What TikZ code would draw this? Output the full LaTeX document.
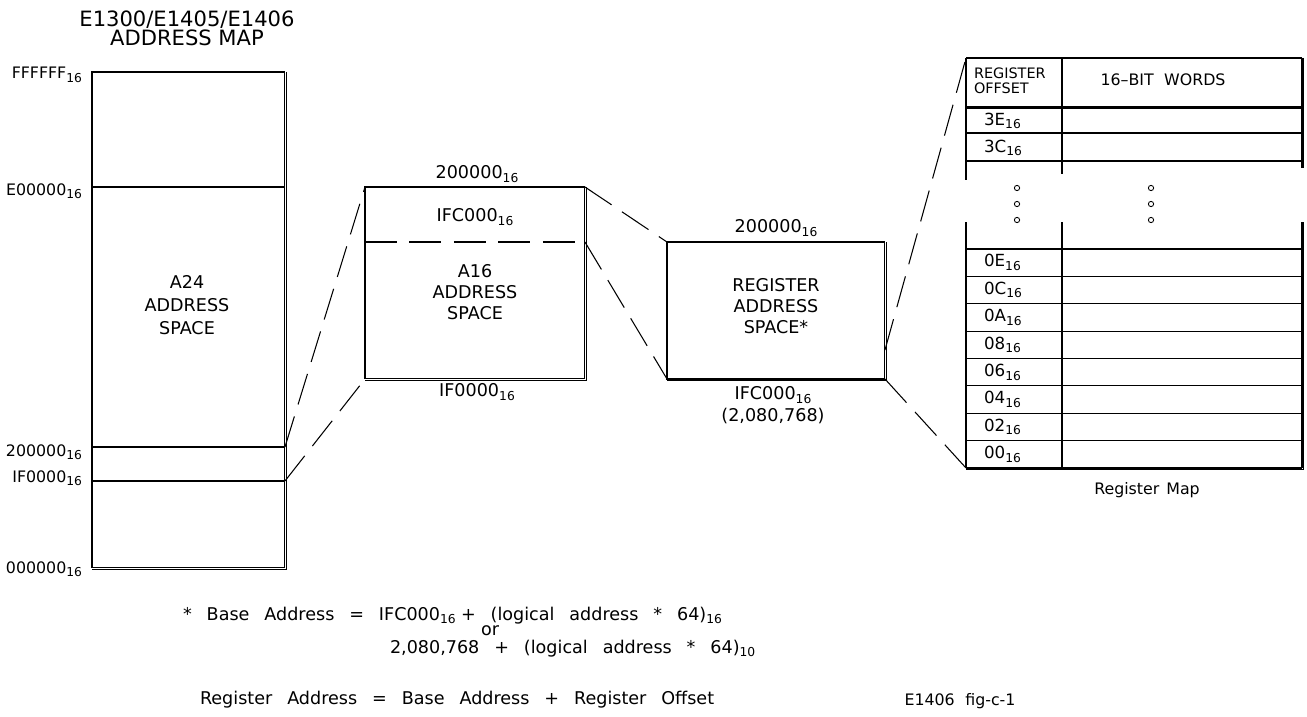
\documentclass[tikz,border=0pt]{standalone}
\usepackage{fontspec}
\setmainfont{DejaVu Sans}
\usepackage{tikz}
\usetikzlibrary{positioning, calc}
\newcommand{\hexsub}[2]{#1\raisebox{-0.4ex}{\fontsize{7}{8}\selectfont#2}}
\newcommand{\wsp}{\hspace{8.5pt}}

\begin{document}
\begin{tikzpicture}[
  x=0.02cm, y=-0.02cm,
  every node/.style={font=\fontsize{10}{12}\selectfont, inner sep=0pt, outer sep=0pt},
  mapbox/.style={rectangle, draw=black, line width=0.6pt, anchor=north west},
  edge/.style={draw=black, line width=0.6pt},
  link/.style={draw=black, line width=0.6pt, dash pattern=on 0.64cm off 0.25cm},
  addr/.style={anchor=east, font=\fontsize{9}{12}\selectfont},
  cell/.style={anchor=west, font=\fontsize{9.5}{12}\selectfont},
  dot/.style={circle, draw=black, line width=0.5pt, minimum size=0.105cm},
  formula/.style={anchor=base west},
]
  \useasboundingbox (0,0) rectangle (1307,716);

  % Address map title
  \node[font=\fontsize{12}{11}\selectfont, align=center] (title) at (187,28)
    {E1300/E1405/E1406\\ADDRESS MAP};

  % A24 space
  \node[mapbox, minimum width=3.86cm, minimum height=9.92cm] (a24) at (92,72) {};
  \draw[edge] ([shift={(1.7,0)}]a24.north east) -- ([shift={(1.7,1.7)}]a24.south east)
    -- ([shift={(0,1.7)}]a24.south west);
  \coordinate (e00) at (92,187);
  \coordinate (h200) at (92,447);
  \coordinate (hif0) at (92,481);
  \draw[edge] (e00) -- (e00 -| a24.east);
  \draw[edge] (h200) -- (h200 -| a24.east);
  \draw[edge] (hif0) -- (hif0 -| a24.east);
  \node[align=center, font=\fontsize{10}{13.3}\selectfont] (a24-name) at (187,305)
    {A24\\ADDRESS\\SPACE};

  \node[addr] (lb-fff) at (82,75) {\hexsub{FFFFFF}{16}};
  \node[addr] (lb-e00) at (82,191) {\hexsub{E00000}{16}};
  \node[addr] (lb-200) at (82,452) {\hexsub{200000}{16}};
  \node[addr] (lb-if0) at (82,478) {\hexsub{IF0000}{16}};
  \node[addr] (lb-000) at (82,569) {\hexsub{000000}{16}};

  % A16 space
  \node[mapbox, minimum width=4.4cm, minimum height=3.84cm] (a16) at (365,187) {};
  \draw[edge] ([shift={(1.7,0)}]a16.north east) -- ([shift={(1.7,1.7)}]a16.south east)
    -- ([shift={(0,1.7)}]a16.south west);
  \coordinate (ifc) at (365,242);
  \draw[link] (ifc) -- (ifc -| a16.east);
  \node (a16-top) at (477,174) {\hexsub{200000}{16}};
  \node (a16-ifc) at (475,217) {\hexsub{IFC000}{16}};
  \node[align=center] (a16-name) at (475,292) {A16\\ADDRESS\\SPACE};
  \node (a16-bot) at (477,392) {\hexsub{IF0000}{16}};

  % Register space
  \node[mapbox, minimum width=4.36cm, minimum height=2.74cm] (reg) at (667,242) {};
  \draw[edge] ([shift={(1.7,0)}]reg.north east) -- ([shift={(1.7,1.7)}]reg.south east)
    -- ([shift={(0,1.7)}]reg.south west);
  \node (reg-top) at (776,228) {\hexsub{200000}{16}};
  \node[align=center] (reg-name) at (776,306) {REGISTER\\ADDRESS\\SPACE*};
  \node (reg-bot) at (773,395) {\hexsub{IFC000}{16}};
  \node (reg-dec) at (773,416) {(2,080,768)};

  % Register map table
  \coordinate (tbl-tl) at (966,58);
  \coordinate (tbl-bl) at (966,468);
  \draw[edge] (966,58) -- (1302,58);
  \draw[edge] (966,58) -- (966,180) (966,222) -- (966,468);
  \draw[edge] (1062,58) -- (1062,174) (1062,222) -- (1062,468);
  \draw[edge] (1302,58) -- (1302,168) (1302,222) -- (1302,468);
  \draw[edge] (1303.7,58) -- (1303.7,168) (1303.7,222) -- (1303.7,469.7) -- (966,469.7);
  \draw[edge] (966,107) -- (1302,107) (966,108.7) -- (1302,108.7);
  \draw[edge] (966,133) -- (1302,133) (966,161) -- (1302,161);
  \foreach \k in {0,...,7}
    \draw[edge] (966,{249+\k*27.375}) -- (1302,{249+\k*27.375});
  \draw[edge] (966,468) -- (1302,468);

  \node[font=\fontsize{8.2}{8.8}\selectfont, align=left, anchor=west] (hdr-off) at (974,81)
    {REGISTER\\OFFSET};
  \node[font=\fontsize{9}{12}\selectfont] (hdr-words) at (1163,80)
    {16--BIT\hspace{6pt}WORDS};
  \node[cell] (off-3e) at (984,121) {\hexsub{3E}{16}};
  \node[cell] (off-3c) at (984,148) {\hexsub{3C}{16}};
  \foreach \lab [count=\i] in {0E,0C,0A,08,06,04,02,00}
    \node[cell] (off-\lab) at (984,{249+(\i-0.5)*27.375}) {\hexsub{\lab}{16}};
  \foreach \y in {188,204,220} {
    \node[dot] (dotl-\y) at (1017,\y) {};
    \node[dot] (dotr-\y) at (1151,\y) {};
  }
  \node[font=\fontsize{9}{12}\selectfont] (map-cap) at (1147,490)
    {Register\hspace{4pt}Map};

  % Expansion lines
  \draw[link] (h200 -| a24.east) -- (a16.north west);
  \draw[link] (hif0 -| a24.east) -- (a16.south west);
  \draw[link] (a16.north east) -- (reg.north west);
  \draw[link] (ifc -| a16.east) -- (reg.south west);
  \draw[link] (reg.east |- 0,350) -- (tbl-tl);
  \draw[link] (reg.south east) -- (tbl-bl);

  % Base address note
  \node[formula] (f-base) at (183,620)
    {*\wsp Base\wsp Address\wsp =\wsp \hexsub{IFC000}{16}\hspace{3pt}+\wsp (logical\wsp address\wsp *\wsp 64)\hexsub{}{16}};
  \node[anchor=base] (f-or) at (490,635) {or};
  \node[formula] (f-dec) at (390,653)
    {2,080,768\wsp +\wsp (logical\wsp address\wsp *\wsp 64)\hexsub{}{10}};
  \node[formula] (f-reg) at (200,704)
    {Register\wsp Address\wsp =\wsp Base\wsp Address\wsp +\wsp Register\wsp Offset};
  \node[font=\fontsize{9}{10}\selectfont, anchor=base] (fig-id) at (960,705)
    {E1406\hspace{6pt}fig-c-1};
\end{tikzpicture}
\end{document}
